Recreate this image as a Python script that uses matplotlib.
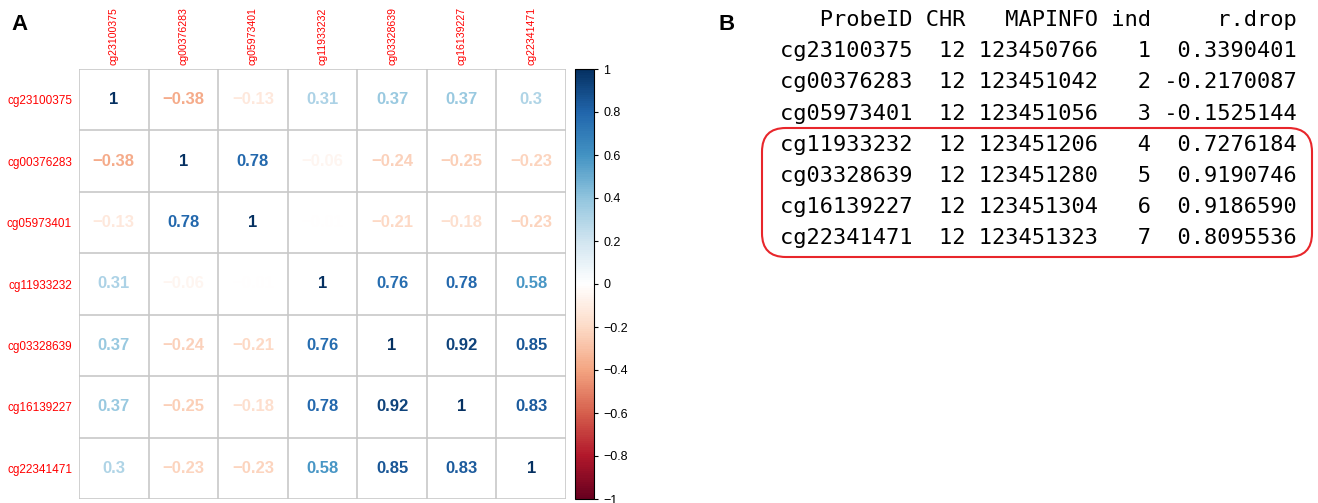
import numpy as np
import matplotlib.pyplot as plt
from matplotlib.colors import LinearSegmentedColormap, Normalize
from matplotlib.cm import ScalarMappable
from matplotlib.patches import FancyBboxPatch

# probes and their pairwise correlations
probes = ['cg23100375', 'cg00376283', 'cg05973401', 'cg11933232',
          'cg03328639', 'cg16139227', 'cg22341471']
corr = np.array([
    [1.00, -0.38, -0.13, 0.31, 0.37, 0.37, 0.30],
    [-0.38, 1.00, 0.78, -0.06, -0.24, -0.25, -0.23],
    [-0.13, 0.78, 1.00, -0.01, -0.21, -0.18, -0.23],
    [0.31, -0.06, -0.01, 1.00, 0.76, 0.78, 0.58],
    [0.37, -0.24, -0.21, 0.76, 1.00, 0.92, 0.85],
    [0.37, -0.25, -0.18, 0.78, 0.92, 1.00, 0.83],
    [0.30, -0.23, -0.23, 0.58, 0.85, 0.83, 1.00],
])

# item-drop table
chrom = [12, 12, 12, 12, 12, 12, 12]
mapinfo = [123450766, 123451042, 123451056, 123451206,
           123451280, 123451304, 123451323]
ind = [1, 2, 3, 4, 5, 6, 7]
r_drop = [0.3390401, -0.2170087, -0.1525144, 0.7276184,
          0.9190746, 0.9186590, 0.8095536]

# RdBu palette as used by corrplot
rdbu = ["#67001F", "#B2182B", "#D6604D", "#F4A582", "#FDDBC7", "#FFFFFF",
        "#D1E5F0", "#92C5DE", "#4393C3", "#2166AC", "#053061"]
cmap = LinearSegmentedColormap.from_list('rdbu', rdbu, N=200)
norm = Normalize(-1, 1)

plt.rcParams['font.family'] = 'Liberation Sans'
W, H = 1318, 503
fig = plt.figure(figsize=(W / 100, H / 100), dpi=100)

def fx(px):
    return px / W

def fy(py):
    return 1 - py / H

n = len(probes)
ax = fig.add_axes([fx(79), fy(499), fx(566) - fx(79), fy(69) - fy(499)])
ax.set_xlim(0, n)
ax.set_ylim(n, 0)
for k in range(n + 1):
    ax.axhline(k, color='#c8c8c8', lw=1.2)
    ax.axvline(k, color='#c8c8c8', lw=1.2)
for i in range(n):
    for j in range(n):
        v = corr[i, j]
        s = f"{v:g}".replace('-', '\u2212')
        ax.text(j + 0.5, i + 0.5, s, ha='center', va='center',
                fontsize=12, fontweight='bold', color=cmap(norm(v)))
for sp in ax.spines.values():
    sp.set_visible(False)
ax.xaxis.tick_top()
ax.set_xticks(np.arange(n) + 0.5)
ax.set_xticklabels(probes, rotation=90, color='red', fontsize=7.6)
ax.set_yticks(np.arange(n) + 0.5)
ax.set_yticklabels(probes, color='red', fontsize=8.5)
ax.tick_params(axis='y', length=0, pad=5)
ax.tick_params(axis='x', length=0, pad=3)

# colour legend
cax = fig.add_axes([fx(575), fy(499), fx(594) - fx(575), fy(69) - fy(499)])
cb = fig.colorbar(ScalarMappable(norm=norm, cmap=cmap), cax=cax)
ticks = np.round(np.arange(-1, 1.01, 0.2), 1) + 0.0
cb.set_ticks(ticks)
cb.set_ticklabels([f"{t:g}".replace('-', '\u2212') for t in ticks])
cb.ax.tick_params(labelsize=9, length=3, width=0.8)
cb.outline.set_linewidth(0.8)

# panel B: printed table
header = f"{'ProbeID':>10} {'CHR':>3} {'MAPINFO':>9} {'ind':>3} {'r.drop':>10}"
lines = [header]
for p, c, m, k, r in zip(probes, chrom, mapinfo, ind, r_drop):
    lines.append(f"{p:>10} {c:>3} {m:>9} {k:>3} {r:>10.7f}")
for i, line in enumerate(lines):
    fig.text(fx(780), fy(20 + i * 31.2), line, family='DejaVu Sans Mono',
             fontsize=15.8, ha='left', va='center')

box = FancyBboxPatch((fx(762), fy(257)), fx(1312) - fx(762), fy(128) - fy(257),
                     boxstyle='round,pad=0,rounding_size=0.018',
                     transform=fig.transFigure, fill=False,
                     edgecolor='#e8262b', lw=1.5, mutation_aspect=W / H)
fig.patches.append(box)

fig.text(fx(20), fy(25), 'A', fontsize=16, fontweight='bold', ha='center', va='center')
fig.text(fx(727), fy(25), 'B', fontsize=16, fontweight='bold', ha='center', va='center')

fig.savefig('out.png', dpi=100)
